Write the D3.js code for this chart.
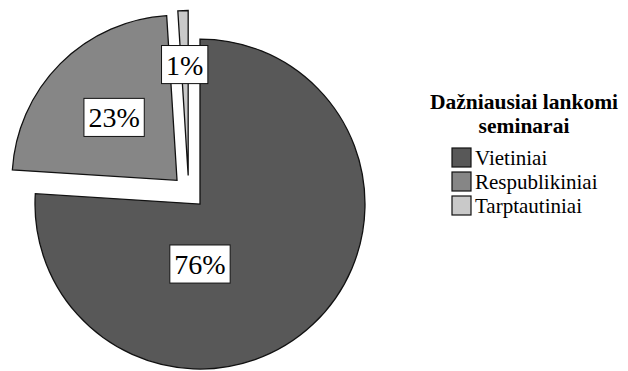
<!DOCTYPE html>
<html>
<head>
<meta charset="utf-8">
<script src="https://cdn.jsdelivr.net/npm/d3@7"></script>
<style>
  body { margin: 0; background: #fff; }
  svg text { font-family: "Liberation Serif", "Times New Roman", Times, "DejaVu Serif", serif; }
</style>
</head>
<body>
<svg id="pie-chart-svg" width="628" height="371"></svg>
<script>
var categories = ['Vietiniai', 'Respublikiniai', 'Tarptautiniai']
var values = [76, 23, 1]
var valueLabels = ['76%', '23%', '1%']
var legendTitle = ['Dažniausiai lankomi', 'seminarai']

var colors = ['#585858', '#868686', '#c9c9c9']

var svg = d3.select('#pie-chart-svg')
var center = { x: 188.7, y: 192 }
var radius = 165
var explode = 16.5
var labelSize = 28
// label distance / direction from each slice's own center
var labelPlace = [
  { r: 60, angle: Math.PI },
  { r: 89, angle: null },
  { r: 111, angle: null }
]

var pie = d3.pie().sort(null).value(function (d) { return d })
var arcs = pie(values)
var arc = d3.arc().innerRadius(0).outerRadius(radius)

function mid(d) {
  return (d.startAngle + d.endAngle) / 2
}

var slices = svg
  .append('g')
  .attr('transform', 'translate(' + center.x + ',' + center.y + ')')
  .selectAll('g')
  .data(arcs)
  .enter()
  .append('g')
  .attr('transform', function (d) {
    var a = mid(d)
    return 'translate(' + Math.sin(a) * explode + ',' + -Math.cos(a) * explode + ')'
  })

slices
  .append('path')
  .attr('d', arc)
  .attr('fill', function (d, i) { return colors[i] })
  .attr('stroke', '#111')
  .attr('stroke-width', 1.3)

// data labels in white boxes
slices.each(function (d, i) {
  var g = d3.select(this)
  var p = labelPlace[i]
  var a = p.angle === null ? mid(d) : p.angle
  var lx = Math.sin(a) * p.r
  var ly = -Math.cos(a) * p.r
  var box = g.append('rect').attr('fill', '#fff').attr('stroke', '#111').attr('stroke-width', 1)
  var t = g
    .append('text')
    .attr('x', lx)
    .attr('y', ly + labelSize * 0.36)
    .attr('text-anchor', 'middle')
    .attr('font-size', labelSize)
    .attr('fill', '#000')
    .text(valueLabels[i])
  var w = t.node().getComputedTextLength() + 9
  var h = labelSize * 1.36
  box
    .attr('x', lx - w / 2)
    .attr('y', ly - h / 2)
    .attr('width', w)
    .attr('height', h)
})

// legend
var legend = svg.append('g').attr('transform', 'translate(524,0)')
legend
  .selectAll('text.title')
  .data(legendTitle)
  .enter()
  .append('text')
  .attr('class', 'title')
  .attr('x', 0)
  .attr('y', function (d, i) { return 109 + i * 24 })
  .attr('text-anchor', 'middle')
  .attr('font-size', 21.5)
  .attr('font-weight', 'bold')
  .text(function (d) { return d })

var items = legend
  .selectAll('g.item')
  .data(categories)
  .enter()
  .append('g')
  .attr('class', 'item')
  .attr('transform', function (d, i) { return 'translate(-72,' + (148 + i * 24) + ')' })

items
  .append('rect')
  .attr('width', 19)
  .attr('height', 19)
  .attr('fill', function (d, i) { return colors[i] })
  .attr('stroke', '#111')
  .attr('stroke-width', 1.2)

items
  .append('text')
  .attr('x', 23)
  .attr('y', 17)
  .attr('font-size', 21)
  .text(function (d) { return d })
</script>
</body>
</html>
